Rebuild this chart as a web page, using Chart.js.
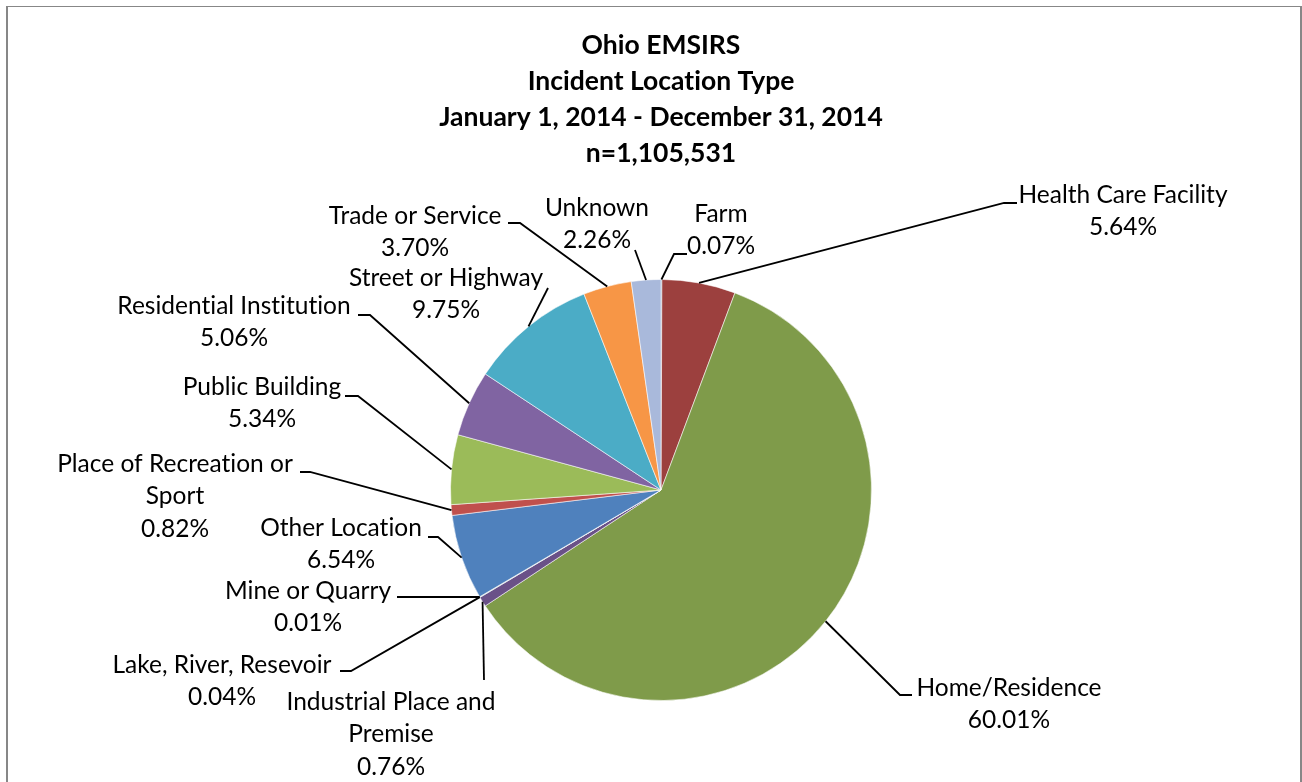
<!DOCTYPE html>
<html>
<head>
<meta charset="utf-8">
<title>Ohio EMSIRS - Incident Location Type</title>
<script src="https://cdn.jsdelivr.net/npm/chart.js@4.4.1/dist/chart.umd.min.js"></script>
<style>
  html, body { margin: 0; padding: 0; background: #fff; overflow: hidden; }
  #frame {
    position: absolute; left: 6px; top: 6px; width: 1292px; height: 820px;
    border-left: 2px solid #878787; border-right: 2px solid #878787; border-top: 1px solid #878787;
  }
  #chart { position: absolute; left: 0; top: 0; }
</style>
</head>
<body>
<div id="frame"></div>
<canvas id="chart" width="1302" height="782"></canvas>
<script>
// dados (ordem das fatias, sentido horário a partir do topo)
const categories = [
  "Farm", "Health Care Facility", "Home/Residence", "Industrial Place and Premise",
  "Lake, River, Resevoir", "Mine or Quarry", "Other Location", "Place of Recreation or Sport",
  "Public Building", "Residential Institution", "Street or Highway", "Trade or Service", "Unknown"
];
const percents = [0.07, 5.64, 60.01, 0.76, 0.04, 0.01, 6.54, 0.82, 5.34, 5.06, 9.75, 3.70, 2.26];
// quebras de linha dos rótulos como no original
const labelLines = [
  ["Farm"], ["Health Care Facility"], ["Home/Residence"], ["Industrial Place and", "Premise"],
  ["Lake, River, Resevoir"], ["Mine or Quarry"], ["Other Location"], ["Place of Recreation or", "Sport"],
  ["Public Building"], ["Residential Institution"], ["Street or Highway"], ["Trade or Service"], ["Unknown"]
];
const titleLines = ["Ohio EMSIRS", "Incident Location Type", "January 1, 2014 - December 31, 2014", "n=1,105,531"];

const sliceColors = [
  "#406899", "#9C403E", "#7F9B4A", "#6A5188", "#3D8BA0", "#C87A39",
  "#4F81BD", "#C0504D", "#9BBB59", "#8064A2", "#4BACC6", "#F79646", "#A9B9DB"
];

// posição dos rótulos (centro do texto, 1a linha) e do cotovelo da linha guia
// x,y = texto ; ex,ey = ponta da linha ; sx = fim do traço horizontal
const labelLayout = [
  { x: 721,  y: 214, ex: 674, ey: 254, sx: 687 },
  { x: 1123, y: 195, ex: 1004, ey: 203, sx: 1017 },
  { x: 1009, y: 688, ex: 900, ey: 695, sx: 912 },
  { x: 391,  y: 702, ex: 484, ey: 680, sx: 484 },
  { x: 222,  y: 665, ex: 351, ey: 671, sx: 340 },
  { x: 308,  y: 591, ex: 477, ey: 597, sx: 397 },
  { x: 341,  y: 528, ex: 438, ey: 537, sx: 428 },
  { x: 175,  y: 464, ex: 310, ey: 472, sx: 300 },
  { x: 262,  y: 387, ex: 358, ey: 396, sx: 345 },
  { x: 234,  y: 306, ex: 370, ey: 315, sx: 358 },
  { x: 446,  y: 278, ex: 548, ey: 288, sx: 548 },
  { x: 415,  y: 216, ex: 520, ey: 223, sx: 508 },
  { x: 597,  y: 208, ex: 635, ey: 250, sx: 635 }
];
const FONT = "Lato, 'Open Sans', sans-serif";
const LABEL_SIZE = 24.5;
const LINE_GAP = 32.5;

// sem ligaduras (o "ti" do Lato não aparece no original)
const noLigatures = {
  id: "noLigatures",
  beforeDraw(chart) {
    chart.ctx.textRendering = "optimizeSpeed";
  }
};

// plugin que desenha as linhas guia e os rótulos fora da pizza
const leaderLabels = {
  id: "leaderLabels",
  afterDatasetsDraw(chart) {
    const ctx = chart.ctx;
    const meta = chart.getDatasetMeta(0);
    ctx.save();
    ctx.textRendering = "optimizeSpeed";
    ctx.strokeStyle = "#000";
    ctx.lineWidth = 1.8;
    ctx.fillStyle = "#000";
    ctx.font = LABEL_SIZE + "px " + FONT;
    ctx.textAlign = "center";
    ctx.textBaseline = "middle";
    meta.data.forEach((arc, i) => {
      const p = arc.getProps(["x", "y", "startAngle", "endAngle", "outerRadius"], true);
      const mid = (p.startAngle + p.endAngle) / 2;
      const px = p.x + Math.cos(mid) * p.outerRadius;
      const py = p.y + Math.sin(mid) * p.outerRadius;
      const L = labelLayout[i];
      ctx.beginPath();
      ctx.moveTo(px, py);
      ctx.lineTo(L.ex, L.ey);
      ctx.lineTo(L.sx, L.ey);
      ctx.stroke();
      const lines = labelLines[i].concat([percents[i].toFixed(2) + "%"]);
      lines.forEach((t, k) => ctx.fillText(t, L.x, L.y + k * LINE_GAP));
    });
    ctx.restore();
  }
};

const ctx = document.getElementById("chart").getContext("2d");
new Chart(ctx, {
  type: "pie",
  data: {
    labels: categories,
    datasets: [{
      data: percents,
      backgroundColor: sliceColors,
      borderColor: "rgba(255,255,255,0.55)",
      borderWidth: 1,
      hoverOffset: 0
    }]
  },
  options: {
    responsive: false,
    animation: false,
    events: [],
    layout: { padding: { left: 20, right: 0, top: 0, bottom: 81 } },
    plugins: {
      legend: { display: false },
      tooltip: { enabled: false },
      title: {
        display: true,
        text: titleLines,
        color: "#000",
        font: { family: FONT, size: 26.5, weight: "bold", lineHeight: 36 / 26.5 },
        padding: { top: 27, bottom: 108 }
      }
    }
  },
  plugins: [noLigatures, leaderLabels]
});
</script>
</body>
</html>
